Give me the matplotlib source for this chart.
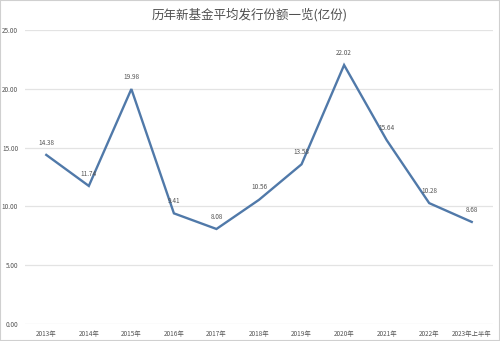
import matplotlib
matplotlib.use("Agg")
import matplotlib.pyplot as plt
from matplotlib.patches import Rectangle

plt.rcParams['font.family'] = ['Noto Sans CJK SC', 'DejaVu Sans']

categories = ["2013年", "2014年", "2015年", "2016年", "2017年", "2018年",
              "2019年", "2020年", "2021年", "2022年", "2023年上半年"]
values = [14.38, 11.74, 19.98, 9.41, 8.08, 10.56, 13.58, 22.02, 15.64, 10.28, 8.68]
yticks = [0, 5, 10, 15, 20, 25]
title = "历年新基金平均发行份额一览(亿份)"

fig = plt.figure(figsize=(5.0, 3.41), dpi=100)
ax = fig.add_axes([25/500, 17/341, 468/500, 294/341])

x = list(range(len(categories)))
ax.plot(x, values, color="#5079a9", linewidth=1.7, solid_joinstyle="miter")
for xi, v in zip(x, values):
    ax.annotate(f"{v:.2f}", (xi, v), xytext=(0, 6), textcoords="offset points",
                ha="center", va="bottom", fontsize=4.6, color="#555555")

ax.set_xlim(-0.5, len(categories) - 0.5)
ax.set_ylim(0, 25)
ax.set_yticks(yticks)
ax.set_yticklabels([f"{t:.2f}" for t in yticks])
ax.set_xticks(x)
ax.set_xticklabels(categories)
ax.tick_params(axis="both", length=0, labelsize=4.6, labelcolor="#555555")
ax.tick_params(axis="x", pad=4)
ax.tick_params(axis="y", pad=5)
ax.grid(axis="y", color="#e3e3e3", linewidth=0.9)
ax.set_axisbelow(True)
for s in ax.spines.values():
    s.set_visible(False)

fig.text(0.5, 1 - 15/341, title, ha="center", va="center", fontsize=9,
         color="#505050", fontweight="medium")

fig.patches.append(Rectangle((0, 0), 1, 1, transform=fig.transFigure,
                             fill=False, edgecolor="#d0d0d0", linewidth=1.5))

fig.savefig("out.png", dpi=100)
